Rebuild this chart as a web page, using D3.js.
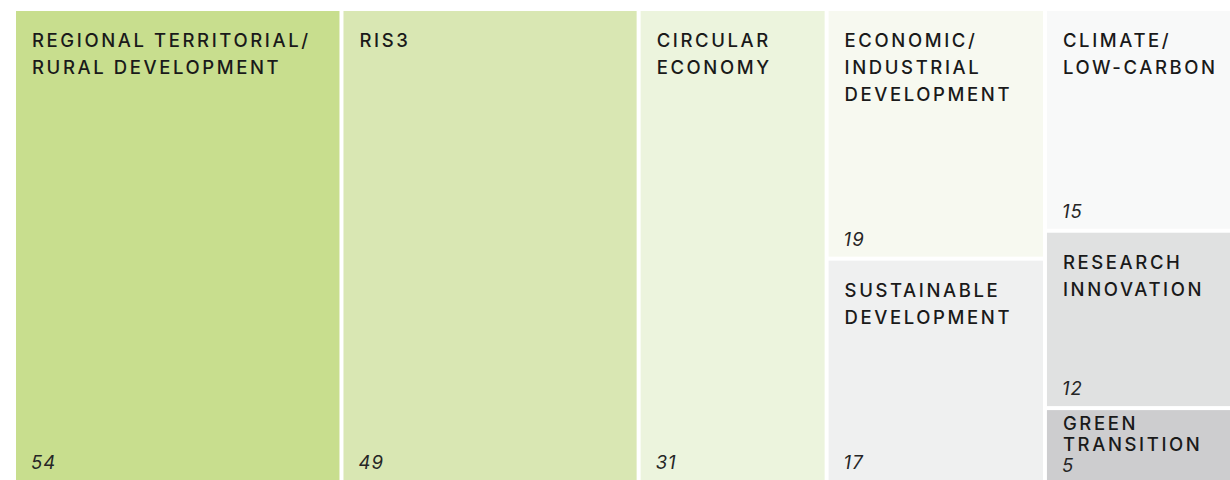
<!DOCTYPE html>
<html>
<head>
<meta charset="utf-8">
<script src="https://cdn.jsdelivr.net/npm/d3@7.9.0/dist/d3.min.js"></script>
<style>
  html, body { margin: 0; padding: 0; background: #fff; }
  svg { display: block; }
  .label { font-family: Inter, Roboto, "Liberation Sans", Arial, sans-serif; font-weight: 500; font-size: 18.5px; letter-spacing: 2.6px; fill: #1a1a1a; }
  .value { font-family: Inter, Roboto, "Liberation Sans", Arial, sans-serif; font-size: 18.5px; font-style: italic; letter-spacing: 1px; fill: #262626; }
</style>
</head>
<body>
<svg id="chart" width="1230" height="480"></svg>
<script>
// data: one column per group, labels split on "\n"
const groups = ["g1", "g2", "g3", "g4", "g4", "g5", "g5", "g5"];
const categories = [
  "REGIONAL TERRITORIAL/\nRURAL DEVELOPMENT",
  "RIS3",
  "CIRCULAR\nECONOMY",
  "ECONOMIC/\nINDUSTRIAL\nDEVELOPMENT",
  "SUSTAINABLE\nDEVELOPMENT",
  "CLIMATE/\nLOW-CARBON",
  "RESEARCH\nINNOVATION",
  "GREEN\nTRANSITION"
];
const counts = [54, 49, 31, 19, 17, 15, 12, 5];
const colors = ["#c8de8e", "#d9e7b3", "#ecf4dd", "#f7f9f0", "#eff0f0", "#f8f9f9", "#e0e1e1", "#cdcdcf"];

let svg = d3.select('#chart');

// build hierarchy: root -> columns -> cells
let rows = categories.map((c, i) => ({ name: c, value: counts[i], group: groups[i], color: colors[i] }));
let grouped = d3.groups(rows, d => d.group).map(([key, items]) => ({ name: key, children: items }));
let root = d3.hierarchy({ name: "root", children: grouped })
  .sum(d => d.value || 0);

d3.treemap()
  .tile(d3.treemapSliceDice)
  .size([1221, 469])
  .paddingInner(4)
  .round(false)(root);

let g = svg.append('g').attr('transform', 'translate(16,11)');

let cells = g.selectAll('g.cell')
  .data(root.leaves())
  .join('g')
  .attr('class', 'cell');

cells.append('rect')
  .attr('x', d => d.x0)
  .attr('y', d => d.y0)
  .attr('width', d => d.x1 - d.x0)
  .attr('height', d => d.y1 - d.y0)
  .attr('fill', d => d.data.color);

cells.each(function(d) {
  let cell = d3.select(this);
  let lines = d.data.name.split("\n");
  let h = d.y1 - d.y0;
  let small = h < 100;
  let first = d.y0 + (small ? 20 : 36);
  let step = small ? 21 : 27;
  lines.forEach((line, i) => {
    cell.append('text')
      .attr('class', 'label')
      .attr('x', d.x0 + 16)
      .attr('y', first + i * step)
      .text(line);
  });
  let last = first + (lines.length - 1) * step;
  let vy = Math.min(d.y1 - 2, Math.max(d.y1 - 11, last + 21));
  cell.append('text')
    .attr('class', 'value')
    .attr('x', d.x0 + 15)
    .attr('y', vy)
    .text(d.data.value);
});
</script>
</body>
</html>
